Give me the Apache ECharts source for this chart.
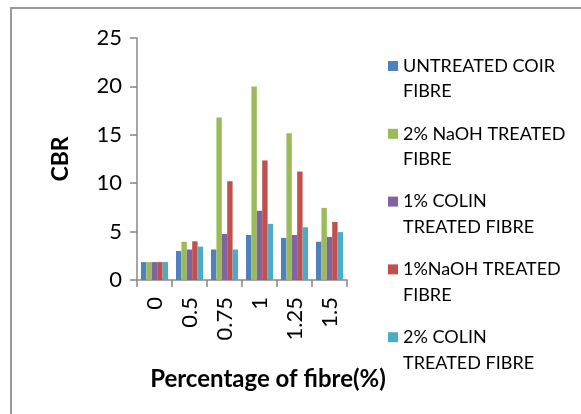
<!DOCTYPE html>
<html>
<head>
<meta charset="utf-8">
<script src="https://cdn.jsdelivr.net/npm/echarts@6/dist/echarts.min.js"></script>
<style>
html,body{margin:0;padding:0;background:#fff;}
#chart{width:581px;height:414px;}
</style>
</head>
<body>
<div id="chart"></div>
<script>
const categories = ['0', '0.5', '0.75', '1', '1.25', '1.5'];
const seriesNames = [
  'UNTREATED COIR\nFIBRE',
  '2% NaOH TREATED\nFIBRE',
  '1% COLIN\nTREATED FIBRE',
  '1%NaOH TREATED\nFIBRE',
  '2% COLIN\nTREATED FIBRE'
];
const untreated = [1.85, 3.0, 3.15, 4.65, 4.35, 3.95];
const naoh2 = [1.85, 3.95, 16.8, 20.0, 15.15, 7.45];
const colin1 = [1.85, 3.15, 4.75, 7.15, 4.65, 4.45];
const naoh1 = [1.85, 4.0, 10.2, 12.35, 11.2, 6.0];
const colin2 = [1.85, 3.45, 3.15, 5.8, 5.45, 4.95];
const seriesValues = [untreated, naoh2, colin1, naoh1, colin2];
const colors = ['#4F81BD', '#9BBB59', '#8064A2', '#C0504D', '#4BACC6'];
const yTicks = [0, 5, 10, 15, 20, 25];
const xTitle = 'Percentage of fibre(%)';
const yTitle = 'CBR';

const FONT = 'Lato';
const chart = echarts.init(document.getElementById('chart'), null, {renderer: 'canvas'});

const legends = seriesNames.map((n, i) => ({
  data: [n],
  orient: 'vertical',
  left: 388,
  top: 66 + i * 67.8 - 38.25,
  padding: 0,
  itemWidth: 10,
  itemHeight: 10,
  icon: 'rect',
  selectedMode: false,
  formatter: name => '\n' + name,
  textStyle: {fontFamily: FONT, fontSize: 18, color: '#000', lineHeight: 25.5}
}));

chart.setOption({
  animation: false,
  color: colors,
  graphic: [{
    type: 'rect',
    shape: {x: 11, y: 8, width: 600, height: 420},
    style: {fill: 'none', stroke: '#9a9a9a', lineWidth: 2}
  }],
  legend: legends,
  grid: {left: 137, right: 234, top: 38, bottom: 134, containLabel: false},
  xAxis: {
    type: 'category',
    data: categories,
    name: xTitle,
    nameLocation: 'middle',
    nameGap: 87,
    nameTextStyle: {fontFamily: FONT, fontSize: 24, fontWeight: 'bold', color: '#000', padding: [0, 0, 0, 52]},
    axisLine: {lineStyle: {color: '#888', width: 1.5}},
    axisTick: {show: true, length: 7, alignWithLabel: false, lineStyle: {color: '#888', width: 1.5}},
    axisLabel: {rotate: 90, margin: 17, fontFamily: FONT, fontSize: 22, color: '#000'}
  },
  yAxis: {
    type: 'value',
    min: 0, max: 25, interval: 5,
    name: yTitle,
    nameLocation: 'middle',
    nameGap: 65,
    nameRotate: 90,
    nameTextStyle: {fontFamily: FONT, fontSize: 23, fontWeight: 'bold', color: '#000'},
    axisLine: {show: true, lineStyle: {color: '#888', width: 1.5}},
    axisTick: {show: true, length: 7, lineStyle: {color: '#888', width: 1.5}},
    splitLine: {show: false},
    axisLabel: {margin: 15, fontFamily: FONT, fontSize: 22, color: '#000',
      formatter: v => yTicks.includes(v) ? String(v) : ''}
  },
  series: seriesValues.map((vals, i) => ({
    type: 'bar',
    name: seriesNames[i],
    data: vals,
    barGap: '0%',
    barCategoryGap: '23%',
    itemStyle: {color: colors[i]}
  }))
});
</script>
</body>
</html>
